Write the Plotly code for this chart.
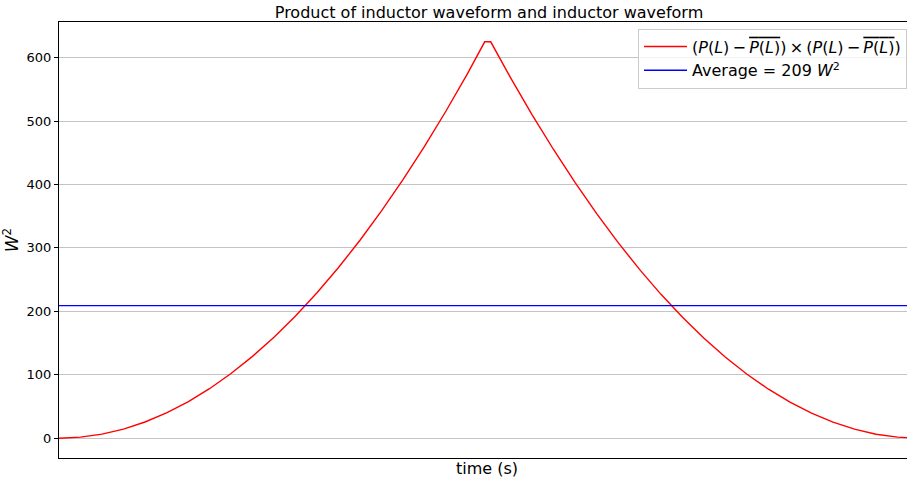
import plotly.graph_objects as go

# time axis (normalised period units)
time = [0.0, 0.025, 0.05, 0.075, 0.1, 0.125, 0.15, 0.175, 0.2, 0.225, 0.25,
        0.275, 0.3, 0.325, 0.35, 0.375, 0.4, 0.425, 0.45, 0.475, 0.495, 0.502,
        0.525, 0.55, 0.575, 0.6, 0.625, 0.65, 0.675, 0.7, 0.725, 0.75, 0.775,
        0.8, 0.825, 0.85, 0.875, 0.9, 0.925, 0.95, 0.975, 1.0]
# (P(L)-mean)^2 in W^2
product = [0.0, 1.6, 6.4, 14.3, 25.5, 39.8, 57.3, 78.0, 101.9, 129.0, 159.2,
           192.7, 229.3, 269.1, 312.1, 358.3, 407.6, 460.2, 515.9, 574.8, 625.0, 625.0,
           568.6, 510.3, 455.2, 403.2, 354.4, 308.7, 266.2, 226.8, 190.6, 157.5, 127.6,
           100.8, 77.2, 56.7, 39.4, 25.2, 14.2, 6.3, 1.6, 0.0]
average_value = 209
avg_time = [0.0, 1.0]
y_ticks = [0, 100, 200, 300, 400, 500, 600]

FONT = "DejaVu Sans"
TS = "\u2009"  # thin space, as in math text
ov = '<span style="text-decoration:overline"><i>P</i>(<i>L</i>)</span>'
label_red = (f"(<i>P</i>(<i>L</i>){TS}−{TS}{ov}){TS}×{TS}"
             f"(<i>P</i>(<i>L</i>){TS}−{TS}{ov})")
label_blue = f"Average = {average_value} <i>W</i><sup>2</sup>"

fig = go.Figure()
fig.add_trace(go.Scatter(x=time, y=product, mode="lines",
                         line=dict(color="red", width=1.4), name=label_red))
fig.add_trace(go.Scatter(x=avg_time, y=[average_value] * len(avg_time), mode="lines",
                         line=dict(color="blue", width=1.4), name=label_blue))

fig.update_layout(
    width=907, height=480,
    margin=dict(l=59, r=0, t=22, b=22),
    paper_bgcolor="white", plot_bgcolor="white",
    font=dict(family=FONT, color="black", size=13),
    title=dict(text="Product of inductor waveform and inductor waveform",
               font=dict(size=16, family=FONT, color="black"),
               x=489 / 907, xref="container", xanchor="center",
               y=1 - 12 / 480, yref="container", yanchor="middle"),
    showlegend=True,
    legend=dict(x=1, xanchor="right", y=0.985, yanchor="top",
                font=dict(size=16, family=FONT), itemwidth=43,
                bgcolor="rgba(255,255,255,0.8)", bordercolor="#cccccc", borderwidth=1),
    xaxis=dict(range=[0, 848 / 860], showticklabels=False, ticks="",
               showgrid=False, zeroline=False, showline=True, linecolor="black",
               linewidth=1, mirror=True),
    yaxis=dict(range=[-31.25, 656.25], tickvals=y_ticks, ticks="outside", ticklen=4,
               tickcolor="black", showgrid=True, gridcolor="#c4c4c4", gridwidth=1,
               zeroline=False, showline=True, linecolor="black", linewidth=1,
               tickfont=dict(size=13, family=FONT),
               title=dict(text="<i>W</i><sup>2</sup>", font=dict(size=17, family=FONT),
                          standoff=8)),
    annotations=[dict(text="time (s)", x=(487 - 59) / 848, xref="paper",
                      y=-(468 - 458) / 436, yref="paper", showarrow=False,
                      xanchor="center", yanchor="middle",
                      font=dict(size=16, family=FONT))],
)

fig.write_html("out.html", config={"displayModeBar": False},
               post_script="document.body.style.margin='0';document.body.style.overflow='hidden';")
